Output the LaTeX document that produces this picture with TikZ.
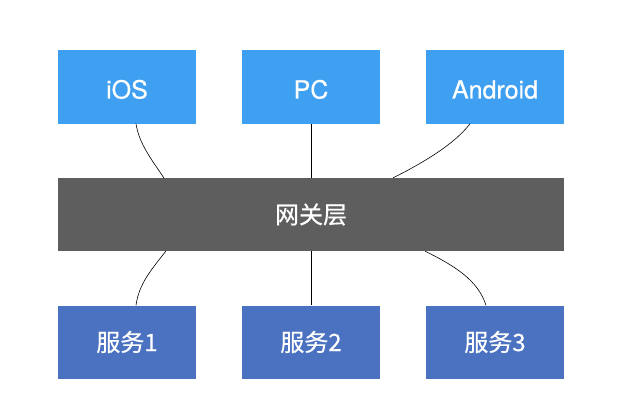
\documentclass[tikz,border=0pt]{standalone}
\usepackage{fontspec}
\setmainfont[FakeBold=0.5]{TeX Gyre Heros}
\newfontfamily\cjk[FakeBold=0.5]{Noto Sans CJK SC}
\usepackage{tikz}

\definecolor{clientblue}{HTML}{3F9FF1}
\definecolor{gatewaygray}{HTML}{5E5E5E}
\definecolor{serviceblue}{HTML}{4A72C0}

\tikzset{
  client/.style={fill=clientblue, text=white, minimum width=138pt, minimum height=73pt, inner sep=0pt,
    text height=23pt, text depth=0pt, font=\fontsize{25}{30}\selectfont},
  service/.style={fill=serviceblue, text=white, minimum width=138pt, minimum height=73pt, inner sep=0pt, font=\cjk\fontsize{24}{29}\selectfont},
  gateway/.style={fill=gatewaygray, text=white, minimum width=506pt, minimum height=73pt, inner sep=0pt, font=\cjk\fontsize{24}{29}\selectfont},
  link/.style={line width=0.6pt, black}
}

\begin{document}
\begin{tikzpicture}[x=1pt, y=-1pt]
    \useasboundingbox (0,0) rectangle (632,412);

    % ---------- clients ----------
    \node[client] (ios)     at (127,87) {iOS};
    \node[client] (pc)      at (311,87) {PC};
    \node[client] (android) at (495,87) {Android};

    % ---------- gateway ----------
    \node[gateway] (gw) at (311,214.5) {网关层};

    % ---------- services ----------
    \node[service] (svc1) at (127,342) {服务1};
    \node[service] (svc2) at (311,342) {服务2};
    \node[service] (svc3) at (495,342) {服务3};

    % clients to gateway
    \draw[link] ([xshift=9pt]ios.south) .. controls +(3,20) and +(-12,-18) .. ([xshift=106pt]gw.north west);
    \draw[link] (pc) -- (gw);
    \draw[link] ([xshift=-25pt]android.south) .. controls +(-15,20) and +(30,-15) .. ([xshift=-171pt]gw.north east);

    % gateway to services
    \draw[link] ([xshift=108pt]gw.south west) .. controls +(-14,18) and +(3,-22) .. ([xshift=9pt]svc1.north);
    \draw[link] (gw) -- (svc2);
    \draw[link] ([xshift=-139pt]gw.south east) .. controls +(30,15) and +(-8,-25) .. ([xshift=-9pt]svc3.north);
\end{tikzpicture}
\end{document}
